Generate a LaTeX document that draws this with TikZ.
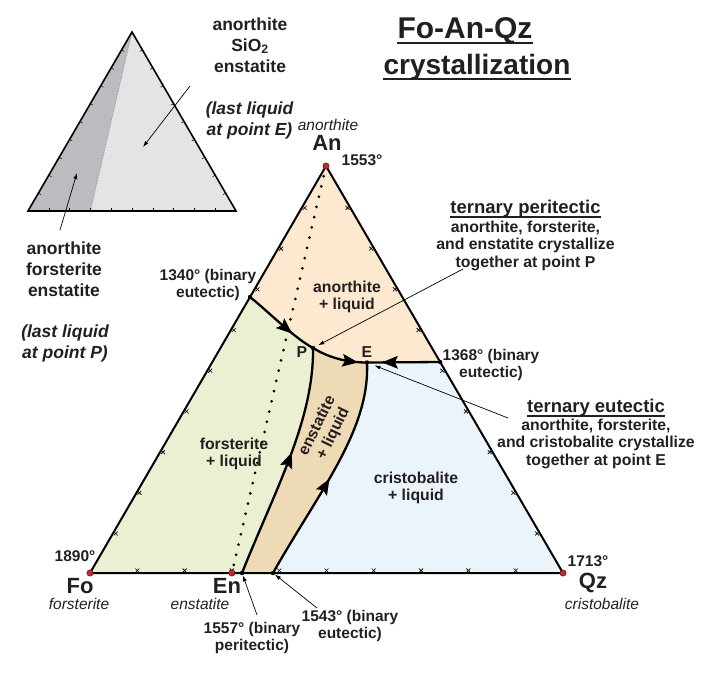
\documentclass[tikz,border=0pt]{standalone}
\usepackage{fontspec}
\setmainfont{Liberation Sans}
\usetikzlibrary{calc,arrows.meta,decorations.markings}

\definecolor{txt}{HTML}{231F20}
\definecolor{anfill}{HTML}{FCE9CF}
\definecolor{fofill}{HTML}{EBF0D3}
\definecolor{enfill}{HTML}{EFDAB6}
\definecolor{qzfill}{HTML}{EAF4FA}
\definecolor{dotred}{HTML}{C1272D}
\definecolor{grayL}{HTML}{E3E4E6}
\definecolor{grayD}{HTML}{BBBCBF}

\newcommand{\mlines}[1]{\begin{tabular}[t]{@{}c@{}}#1\end{tabular}}

\begin{document}
\begin{tikzpicture}[x=1pt,y=-1pt,
  lbl/.style={inner sep=0pt, anchor=base, text=txt, font=\bfseries\fontsize{15.8}{17.7}\selectfont},
  lblL/.style={inner sep=0pt, anchor=base, text=txt, font=\bfseries\fontsize{17.5}{21}\selectfont},
  lblLi/.style={inner sep=0pt, anchor=base, text=txt, font=\bfseries\itshape\fontsize{17.5}{21}\selectfont},
  lblH/.style={inner sep=0pt, anchor=base, text=txt, font=\bfseries\fontsize{18.5}{21}\selectfont},
  lblI/.style={inner sep=0pt, anchor=base, text=txt, font=\itshape\fontsize{15.5}{18}\selectfont},
  deg/.style={inner sep=0pt, anchor=base, text=txt, font=\bfseries\fontsize{15.5}{17.5}\selectfont},
  vtx/.style={inner sep=0pt, anchor=base, text=txt, font=\bfseries\fontsize{22}{24}\selectfont},
  ttl/.style={inner sep=0pt, anchor=base, text=txt},
  ulin/.style={line width=1.6pt, draw=txt},
  bnd/.style={line width=2.3pt, line cap=round},
  arrowmark/.style={postaction={decorate}, decoration={markings, mark=at position #1 with {\fill (-9pt,-6.5pt) -- (7pt,0pt) -- (-9pt,6.5pt) -- (-6pt,0pt) -- cycle;}}},
  tickst/.style={line width=0.6pt},
  stick/.style={line width=0.5pt},
  leader/.style={line width=0.7pt, -{Latex[length=6pt,width=4pt]}},
  reddot/.style={fill=dotred, draw=black!70!dotred, line width=0.4pt},
  blkdot/.style={fill=black},
  dotline/.style={line width=3pt, line cap=round, dash pattern=on 0pt off 10.5pt}
]
\useasboundingbox (0,0) rectangle (711,672);

% ---------- small triangle ----------
\coordinate (s1) at (28,211);
\coordinate (s2) at (236,211);
\coordinate (s3) at (132,32);
\coordinate (sd) at ($(s1)!0.3!(s2)$);
\fill[grayL] (s3) -- (sd) -- (s2) -- cycle;
\fill[grayD] (s3) -- (s1) -- (sd) -- cycle;
\draw[line width=0.6pt, gray, densely dotted] (s3) -- (sd);
\foreach \i in {1,...,9}{
  \draw[stick] ($(s1)!\i/10!(s2)$) -- ++(0,-3);
  \draw[stick] ($(s1)!\i/10!(s3)$) -- ++(2.6,1.5);
  \draw[stick] ($(s2)!\i/10!(s3)$) -- ++(-2.6,1.5);
}
\draw[line width=1.6pt, line join=miter] (s1) -- (s2) -- (s3) -- cycle;
\coordinate (sE) at (143,147);
\coordinate (sP) at (77,173);
\coordinate (sEs) at (190,86);
\coordinate (sPs) at (60,230);
\draw[leader] (sEs) -- (sE);
\draw[leader] (sPs) -- (sP);

\node[lblL] (tE) at (250,30) {\mlines{anorthite\\SiO\textsubscript{2}\\enstatite}};
\node[lblLi] (tEl) at (249.5,114) {\mlines{(last liquid\\at point E)}};
\node[lblL] (tP) at (64,254) {\mlines{anorthite\\forsterite\\enstatite}};
\node[lblLi] (tPl) at (65,337) {\mlines{(last liquid\\at point P)}};

% ---------- title ----------
\node[ttl, font=\bfseries\fontsize{30}{32}\selectfont] (t1) at (465,38) {Fo-An-Qz};
\node[ttl, font=\bfseries\fontsize{28}{32}\selectfont] (t2) at (477,74) {crystallization};
\draw[ulin] ([yshift=-5pt]t1.base west) -- ([yshift=-5pt]t1.base east);
\draw[ulin] ([yshift=-5pt]t2.base west) -- ([yshift=-5pt]t2.base east);

% ---------- main triangle ----------
\coordinate (Fo) at (90,573);
\coordinate (An) at (326,166);
\coordinate (Qz) at (563,573);
\coordinate (En) at ($(Fo)!0.3!(Qz)$);
\coordinate (b1340) at (250,297);
\coordinate (b1368) at ($(An)!0.4816!(Qz)$);
\coordinate (P) at (313,348);
\coordinate (E) at (367,362.5);
\coordinate (b1557) at (242,573);
\coordinate (b1543) at (273,573);

\fill[anfill] (An) -- (b1340) .. controls (270,313) and (293,337) .. (P)
   .. controls (328,357) and (345,362.5) .. (E) -- (b1368) -- cycle;
\fill[fofill] (Fo) -- (b1340) .. controls (270,313) and (293,337) .. (P)
   .. controls (314,420) and (275,490) .. (b1557) -- cycle;
\fill[enfill] (P) .. controls (328,357) and (345,362.5) .. (E)
   .. controls (370,430) and (320,490) .. (b1543) -- (b1557)
   .. controls (275,490) and (314,420) .. (P) -- cycle;
\fill[qzfill] (E) -- (b1368) -- (Qz) -- (b1543)
   .. controls (320,490) and (370,430) .. (E) -- cycle;

\draw[dotline] (An) -- (En);

\foreach \i in {1,...,9}{
  \draw[tickst] ($(Fo)!\i/10!(Qz)+(0,-2.5)$) +(-2,-2) -- +(2,2) +(-2,2) -- +(2,-2);
  \draw[tickst] ($(Fo)!\i/10!(An)+(2.2,1.2)$) +(-2,-2) -- +(2,2) +(-2,2) -- +(2,-2);
  \draw[tickst] ($(Qz)!\i/10!(An)+(-2.2,1.2)$) +(-2,-2) -- +(2,2) +(-2,2) -- +(2,-2);
}

\draw[bnd, arrowmark=0.60] (b1340) .. controls (270,313) and (293,337) .. (P);
\draw[bnd, arrowmark=0.72] (P) .. controls (328,357) and (345,362.5) .. (E);
\draw[bnd, arrowmark=0.70] (b1368) -- (E);
\draw[bnd, arrowmark=0.52] (b1557) .. controls (275,490) and (314,420) .. (P);
\draw[bnd, arrowmark=0.44] (b1543) .. controls (320,490) and (370,430) .. (E);

\draw[line width=2pt, line join=miter] (Fo) -- (An) -- (Qz) -- cycle;

\foreach \p in {b1340,b1368,P,E,b1557,b1543}{
  \fill[blkdot] (\p) circle[radius=2.2];
}
\foreach \p in {An,Fo,Qz,En}{
  \filldraw[reddot] (\p) circle[radius=3.2];
}

% ---------- leaders ----------
\coordinate (lpS) at (463,269);
\coordinate (leS) at (508,418);
\coordinate (l57S) at (257,615);
\coordinate (l43S) at (317,608);
\draw[leader, shorten >=6pt] (lpS) -- (P);
\draw[leader, shorten >=8pt] (leS) -- (E);
\draw[leader, shorten >=2.5pt] (l57S) -- (b1557);
\draw[leader, shorten >=2.5pt] (l43S) -- (b1543);

% ---------- labels ----------
\node[lblI] (anI) at (328,130) {anorthite};
\node[vtx] (anL) at (327,150) {An};
\node[deg] (an1553) at (362,165) {1553°};
\node[deg] (fo1890) at (75,561) {1890°};
\node[vtx] (foL) at (80,593) {Fo};
\node[lblI] (foI) at (79,609) {forsterite};
\node[vtx] (enL) at (227,593) {En};
\node[lblI] (enI) at (200,609) {enstatite};
\node[deg] (qz1713) at (588,566) {1713°};
\node[vtx] (qzL) at (593,588) {Qz};
\node[lblI] (qzI) at (602,609) {cristobalite};

\node[deg] (l1340) at (208,280) {\mlines{1340° (binary\\eutectic)}};
\node[deg] (l1368) at (491,360) {\mlines{1368° (binary\\eutectic)}};
\node[deg] (l1557) at (252,633) {\mlines{1557° (binary\\peritectic)}};
\node[deg] (l1543) at (350,621) {\mlines{1543° (binary\\eutectic)}};

\node[lbl] (fA) at (347,292) {\mlines{anorthite\\+ liquid}};
\node[lbl] (fF) at (234,449) {\mlines{forsterite\\+ liquid}};
\node[lbl] (fQ) at (416,483) {\mlines{cristobalite\\+ liquid}};
\node[lbl, rotate=64, anchor=center] (fE) at (326,430) {\mlines{enstatite\\+ liquid}};

\node[lbl] (Plab) at (302,357) {P};
\node[lbl] (Elab) at (367,357) {E};

\node[lblH] (hP) at (525.5,213) {ternary peritectic};
\draw[ulin, line width=1.2pt] ([yshift=-4pt]hP.base west) -- ([yshift=-4pt]hP.base east);
\node[lbl] (bP) at (525.5,232) {\mlines{anorthite, forsterite,\\and enstatite crystallize\\together at point P}};
\node[lblH] (hE) at (596,412) {ternary eutectic};
\draw[ulin, line width=1.2pt] ([yshift=-4pt]hE.base west) -- ([yshift=-4pt]hE.base east);
\node[lbl] (bE) at (596,430) {\mlines{anorthite, forsterite,\\and cristobalite crystallize\\together at point E}};
\end{tikzpicture}
\end{document}
